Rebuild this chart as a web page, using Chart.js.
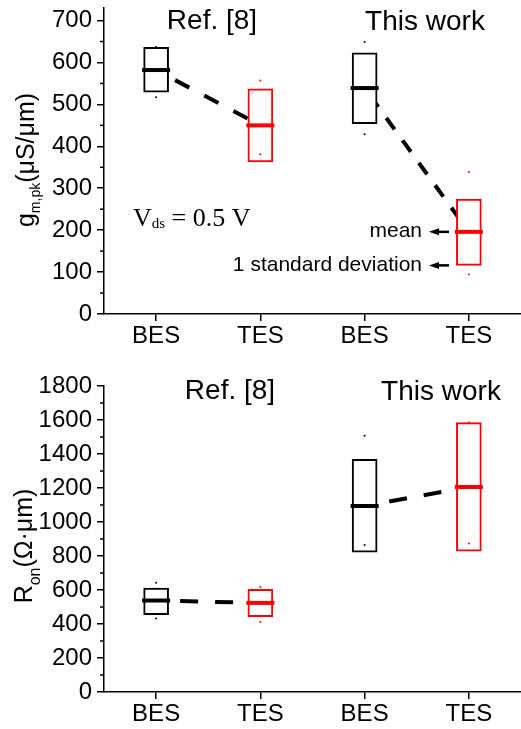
<!DOCTYPE html>
<html>
<head>
<meta charset="utf-8">
<script src="https://cdn.jsdelivr.net/npm/chart.js@4.4.1/dist/chart.umd.min.js"></script>
<style>
  html, body { margin: 0; padding: 0; background: #fff; }
  #wrap { position: relative; width: 521px; height: 729px; }
  canvas { position: absolute; left: 0; display: block; }
  #gm { top: 0; }
  #ron { top: 360px; }
</style>
</head>
<body>
<div id="wrap">
  <canvas id="gm" width="521" height="360"></canvas>
  <canvas id="ron" width="521" height="369"></canvas>
</div>
<script>
const categories = ['BES', 'TES', 'BES', 'TES'];
const groupLabels = ['Ref. [8]', 'This work'];
const boxColors = ['#000000', '#ff0000', '#000000', '#ff0000'];

// peak transconductance, uS/um
const gmMean = [582, 450, 539, 196];
const gmLow = [529, 363, 454, 116];   // mean - 1 sd
const gmHigh = [636, 537, 623, 274];  // mean + 1 sd
const gmDotHigh = [637, 557, 649, 339];
const gmDotLow = [517, 381, 429, 94];
const gmTicks = [0, 100, 200, 300, 400, 500, 600, 700];

// on-resistance, ohm*um
const ronMean = [538, 524, 1094, 1206];
const ronLow = [455, 443, 822, 829];
const ronHigh = [612, 604, 1369, 1585];
const ronDotHigh = [643, 618, 1508, 1585];
const ronDotLow = [432, 412, 865, 873];
const ronTicks = [0, 200, 400, 600, 800, 1000, 1200, 1400, 1600, 1800];

const SANS = "'Liberation Sans', Arial, Helvetica, sans-serif";
const SERIF = "'Liberation Serif', 'Times New Roman', serif";
Chart.defaults.font.family = SANS;
Chart.defaults.color = '#000';

function richText(ctx, parts, x, y, align) {
  let total = 0;
  parts.forEach(p => { ctx.font = p.font; p.w = ctx.measureText(p.text).width; total += p.w; });
  let cx = align === 'center' ? x - total / 2 : (align === 'right' ? x - total : x);
  ctx.textAlign = 'left';
  ctx.textBaseline = 'alphabetic';
  parts.forEach(p => {
    ctx.font = p.font;
    ctx.fillText(p.text, cx, y + (p.dy || 0));
    cx += p.w;
  });
}

function arrow(ctx, tipX, tailX, y) {
  ctx.beginPath();
  ctx.moveTo(tailX, y);
  ctx.lineTo(tipX + 6, y);
  ctx.lineWidth = 2.5;
  ctx.stroke();
  ctx.beginPath();
  ctx.moveTo(tipX, y);
  ctx.lineTo(tipX + 10, y - 3.5);
  ctx.lineTo(tipX + 10, y + 3.5);
  ctx.closePath();
  ctx.fill();
}

function decor(spec) {
  return {
    id: 'decor',
    afterDraw(chart) {
      const ctx = chart.ctx;
      const ys = chart.scales.y;
      ctx.save();
      ctx.strokeStyle = '#000';
      ctx.fillStyle = '#000';
      ctx.lineWidth = 1.5;
      // minor ticks between the labelled ones
      for (let v = spec.minorStep; v < ys.max; v += 2 * spec.minorStep) {
        const py = ys.getPixelForValue(v);
        ctx.beginPath();
        ctx.moveTo(ys.right - 4, py);
        ctx.lineTo(ys.right, py);
        ctx.stroke();
      }
      // axis title with subscript
      ctx.save();
      ctx.translate(spec.titleX, spec.titleY);
      ctx.rotate(-Math.PI / 2);
      richText(ctx, spec.title, 0, 0, 'center');
      ctx.restore();
      // group headers
      ctx.font = '28px ' + SANS;
      ctx.textAlign = 'center';
      ctx.textBaseline = 'alphabetic';
      spec.groups.forEach((g, i) => ctx.fillText(groupLabels[i], g.x, g.y));
      if (spec.extra) spec.extra(chart, ctx);
      ctx.restore();
    }
  };
}

function dashedLink(data, dash, offset) {
  return {
    type: 'line', data: data, borderColor: '#000', borderWidth: 4,
    borderDash: dash, borderDashOffset: offset, borderCapStyle: 'butt',
    pointRadius: 0, fill: false, spanGaps: false, order: 5
  };
}

function makeChart(id, d, yMax, xHeight, padTop, spec) {
  const means = (from, to) => d.mean.map((v, i) => (i >= from && i <= to ? v : null));
  return new Chart(document.getElementById(id), {
    type: 'bar',
    data: {
      labels: categories,
      datasets: [
        dashedLink(means(0, 1), d.dashA, d.offA),
        dashedLink(means(2, 3), d.dashB, d.offB),
        {
          type: 'bar', data: d.low.map((lo, i) => [lo, d.high[i]]),
          backgroundColor: '#ffffff', borderColor: boxColors, borderWidth: 2,
          borderSkipped: false, barThickness: 25, order: 3
        },
        {
          type: 'line', data: d.mean, showLine: false, pointStyle: 'line',
          pointRadius: 14, pointBorderWidth: 4, pointBorderColor: boxColors, order: 2
        },
        {
          type: 'line', data: d.dotHigh, showLine: false, pointRadius: 1, pointBorderWidth: 0,
          pointBackgroundColor: boxColors, order: 1
        },
        {
          type: 'line', data: d.dotLow, showLine: false, pointRadius: 1, pointBorderWidth: 0,
          pointBackgroundColor: boxColors, order: 1
        }
      ]
    },
    options: {
      responsive: false,
      animation: false,
      events: [],
      devicePixelRatio: 1,
      layout: { autoPadding: false, padding: { top: padTop, right: 0, bottom: 0, left: 0 } },
      plugins: { legend: { display: false }, tooltip: { enabled: false } },
      scales: {
        x: {
          type: 'category',
          offset: true,
          grid: { display: true, drawOnChartArea: false, offset: false, tickLength: 7, color: '#000', lineWidth: 1.5 },
          border: { display: true, color: '#000', width: 1.5 },
          ticks: { color: '#000', font: { size: 24 }, padding: 1, maxRotation: 0, autoSkip: false },
          afterFit: s => { s.height = xHeight; s.paddingLeft = 0; s.paddingRight = 0; }
        },
        y: {
          min: 0,
          max: yMax,
          afterBuildTicks: s => { s.ticks = d.ticks.map(v => ({ value: v })); },
          grid: { display: true, drawOnChartArea: false, tickLength: 7, color: '#000', lineWidth: 1.5 },
          border: { display: true, color: '#000', width: 1.5 },
          ticks: { color: '#000', font: { size: 24 }, padding: 5, callback: v => String(v) },
          afterFit: s => { s.width = 104; s.paddingTop = 0; s.paddingBottom = 0; }
        }
      }
    },
    plugins: [decor(spec)]
  });
}

makeChart('gm', {
  mean: gmMean, low: gmLow, high: gmHigh, dotHigh: gmDotHigh, dotLow: gmDotLow, ticks: gmTicks,
  dashA: [16, 17], offA: 11.5, dashB: [14, 13.7], offB: 18.4
}, 730, 46, 8, {
  minorStep: 50,
  titleX: 34, titleY: 160,
  title: [
    { text: 'g', font: '25px ' + SANS },
    { text: 'm,pk', font: '14px ' + SANS, dy: 6 },
    { text: '(\u03bcS/\u03bcm)', font: '25px ' + SANS }
  ],
  groups: [{ x: 212, y: 29 }, { x: 425, y: 30 }],
  extra: (chart, ctx) => {
    const ys = chart.scales.y;
    richText(ctx, [
      { text: 'V', font: '26px ' + SERIF },
      { text: 'ds', font: '15px ' + SERIF, dy: 2 },
      { text: ' = 0.5 V', font: '26px ' + SERIF }
    ], 133, 226, 'left');
    const yMean = ys.getPixelForValue(gmMean[3]);
    const ySd = ys.getPixelForValue(gmLow[3]);
    ctx.font = '21px ' + SANS;
    ctx.textAlign = 'right';
    ctx.textBaseline = 'alphabetic';
    ctx.fillText('mean', 422, yMean + 5.5);
    ctx.fillText('1 standard deviation', 422, ySd + 5.5);
    arrow(ctx, 429, 449, yMean);
    arrow(ctx, 429, 449, ySd);
  }
});

makeChart('ron', {
  mean: ronMean, low: ronLow, high: ronHigh, dotHigh: ronDotHigh, dotLow: ronDotLow, ticks: ronTicks,
  dashA: [18, 17], offA: 11, dashB: [18, 17], offB: 10
}, 1800, 37, 26, {
  minorStep: 100,
  titleX: 32, titleY: 186,
  title: [
    { text: 'R', font: '25px ' + SANS },
    { text: 'on', font: '16px ' + SANS, dy: 8 },
    { text: '(\u03a9\u00b7\u03bcm)', font: '25px ' + SANS }
  ],
  groups: [{ x: 230, y: 39 }, { x: 441, y: 40 }]
});
</script>
</body>
</html>
